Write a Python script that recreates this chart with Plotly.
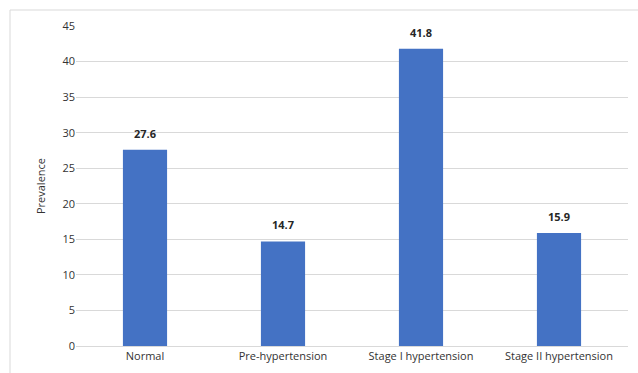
import plotly.graph_objects as go

categories = ["Normal", "Pre-hypertension", "Stage I hypertension", "Stage II hypertension"]
values = [27.6, 14.7, 41.8, 15.9]
y_ticks = [0, 5, 10, 15, 20, 25, 30, 35, 40, 45]

fig = go.Figure(go.Bar(
    x=categories, y=values,
    marker=dict(color="#4472C4", line=dict(width=0)),
))

W, H = 638, 373
l, r, t, b = 76, 10, 26, 27
pw, ph = W - l - r, H - t - b

annotations = [
    dict(x=c, y=v, xref="x", yref="y", text=f"{v:.1f}", showarrow=False,
         yanchor="bottom", yshift=7,
         font=dict(family="Open Sans", size=11, color="#262626", weight="bold"))
    for c, v in zip(categories, values)
]

fig.update_layout(
    width=W, height=H,
    margin=dict(l=l, r=r, t=t, b=b, autoexpand=False),
    paper_bgcolor="white", plot_bgcolor="white",
    bargap=0.68,
    showlegend=False,
    font=dict(family="Open Sans", size=11, color="#333333"),
    xaxis=dict(showgrid=False, showline=True, linecolor="#d9d9d9", linewidth=1,
               ticks="", automargin=False, tickfont=dict(size=11, color="#333333")),
    yaxis=dict(range=[0, 45], tickvals=y_ticks, showgrid=True, gridcolor="#d9d9d9",
               gridwidth=1, zeroline=False, ticks="", ticklen=0, automargin=False,
               tickfont=dict(size=11, color="#333333"),
               title=dict(text="Prevalence", font=dict(size=11, color="#333333"), standoff=14)),
    annotations=annotations,
    shapes=[dict(type="rect", xref="paper", yref="paper",
                 x0=(10 - l) / pw, x1=1 + 20 / pw,
                 y0=-60 / ph, y1=1 + 16 / ph,
                 line=dict(color="#d9d9d9", width=1), layer="below")],
)

fig.write_html("out.html", config={"displayModeBar": False},
               post_script="document.body.style.margin='0';")
